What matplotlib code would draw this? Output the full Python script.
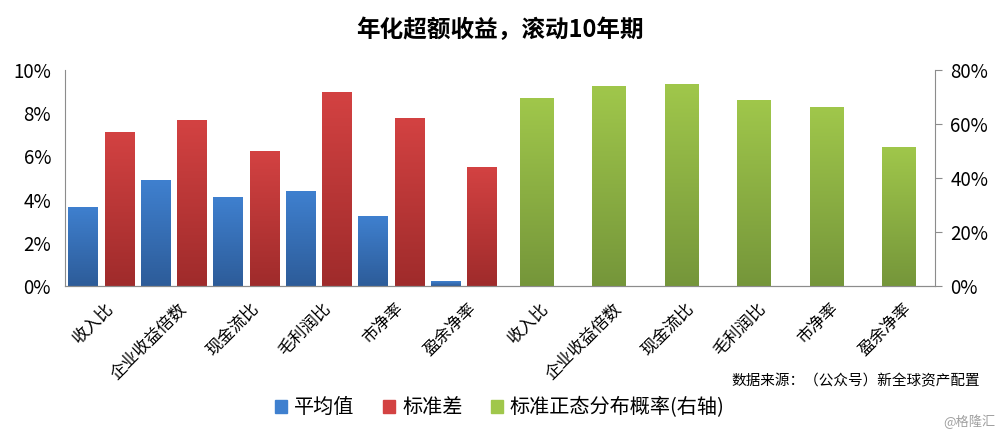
import numpy as np
import matplotlib
matplotlib.use('Agg')
from matplotlib import pyplot as plt
from matplotlib.colors import LinearSegmentedColormap
from matplotlib.ticker import FuncFormatter
from matplotlib.patches import Patch

plt.rcParams['font.family'] = ['Noto Sans CJK SC', 'DejaVu Sans']

factors = ['收入比', '企业收益倍数', '现金流比', '毛利润比', '市净率', '盈余净率']
mean_vals = [3.66, 4.89, 4.11, 4.38, 3.22, 0.22]      # 平均值 (%)
std_vals = [7.13, 7.67, 6.23, 8.97, 7.76, 5.50]       # 标准差 (%)
prob_vals = [69.6, 73.9, 74.7, 68.9, 66.3, 51.6]      # 标准正态分布概率 (%), right axis
labels = factors + factors

blue = ('#3f80cf', '#2d5c99')
red = ('#d34242', '#9f2b2b')
green = ('#a0c74b', '#75963a')


def grad_bars(ax, xs, hs, width, cols):
    cmap = LinearSegmentedColormap.from_list('g', [cols[1], cols[0]])
    grad = np.linspace(0, 1, 256).reshape(-1, 1)
    bars = ax.bar(xs, hs, width, color='none', edgecolor='none')
    for b in bars:
        x0, w, h = b.get_x(), b.get_width(), b.get_height()
        im = ax.imshow(grad, extent=[x0, x0 + w, 0, h], origin='lower',
                       aspect='auto', cmap=cmap, zorder=2)
        im.set_clip_path(b)
    return bars


fig = plt.figure(figsize=(10, 4.33), dpi=100)
ax1 = fig.add_axes([0.065, 0.3395, 0.87, 0.4988])
ax2 = ax1.twinx()

x = np.arange(12)
w = 0.41
grad_bars(ax1, x[:6] - 0.25, mean_vals, w, blue)
grad_bars(ax1, x[:6] + 0.25, std_vals, w, red)
grad_bars(ax2, x[6:], prob_vals, 0.46, green)

ax1.set_xlim(-0.5, 11.5)
ax1.set_ylim(0, 10)
ax2.set_ylim(0, 80)
ax1.set_yticks(np.arange(0, 11, 2))
ax2.set_yticks(np.arange(0, 81, 20))
ax1.yaxis.set_major_formatter(FuncFormatter(lambda v, p: '%d%%' % v))
ax2.yaxis.set_major_formatter(FuncFormatter(lambda v, p: '%d%%' % v))

for a in (ax1, ax2):
    a.spines['top'].set_visible(False)
    for s in a.spines.values():
        s.set_color('#8c8c8c')
ax1.spines['right'].set_visible(False)
ax2.spines['left'].set_visible(False)
ax1.tick_params(axis='y', length=0, labelsize=13.5, pad=10)
ax2.tick_params(axis='y', length=5, color='#8c8c8c', labelsize=13.5, pad=6)
ax1.set_xticks(x + 0.05)
ax1.set_xticklabels(labels, rotation=45, ha='right', rotation_mode='anchor', fontsize=12)
ax1.tick_params(axis='x', length=0, pad=10)

fig.text(0.5, 0.93, '年化超额收益，滚动10年期', ha='center', va='center',
         fontsize=17, fontweight='bold')
fig.text(0.98, 0.12, '数据来源：（公众号）新全球资产配置', ha='right', va='center',
         fontsize=10.5)
fig.text(0.995, 0.025, '@格隆汇', ha='right', va='center', fontsize=9.5, color='#a0a0a0')

handles = [Patch(color=blue[0]), Patch(color=red[0]), Patch(color=green[0])]
fig.legend(handles, ['平均值', '标准差', '标准正态分布概率(右轴)'], loc='center',
           bbox_to_anchor=(0.5, 0.058), ncol=3, frameon=False, fontsize=14.5,
           handlelength=0.6, handleheight=0.6, handletextpad=0.35, columnspacing=1.4)

fig.savefig('out.png', dpi=100)
